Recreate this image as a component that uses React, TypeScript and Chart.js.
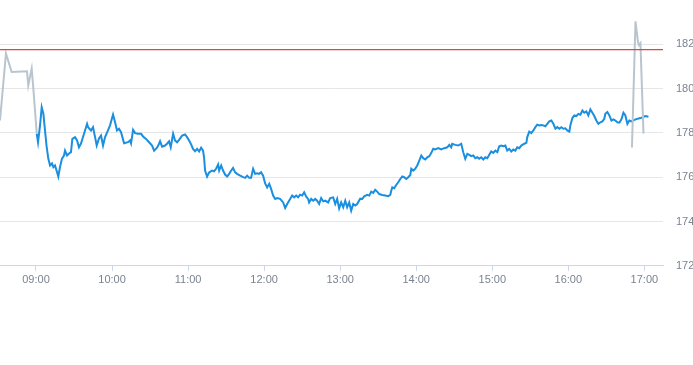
import React, { useEffect, useRef } from "react";
import { Chart, registerables } from "chart.js";

Chart.register(...registerables);

// time = minutes since midnight, price in currency units
const preTimes = [511.6, 516.3, 520.8, 532.9, 533.9, 536.6, 537.9, 540.6];
const prePrices = [178.56, 181.59, 180.75, 180.78, 180.14, 180.9, 180.01, 177.96];

const sessionTimes = [
  540.6, 541.6, 543.2, 544.5, 545.8, 547.1, 548.3, 549.7, 551.1, 552.6, 553.7, 555.0, 556.2, 557.6, 558.9, 560.5,
  562.1, 562.9, 564.5, 566.1, 567.6, 568.7, 570.8, 572.4, 573.9, 575.5, 577.9, 580.3, 581.1, 583.4, 585.0, 586.6,
  587.9, 589.7, 591.3, 592.9, 594.5, 596.8, 598.4, 600.8, 602.4, 603.9, 605.5, 607.1, 609.5, 612.6, 614.2, 615.0,
  616.6, 618.2, 620.5, 622.9, 624.5, 626.8, 629.2, 631.6, 633.2, 635.5, 637.1, 637.9, 639.5, 641.8, 643.4, 645.0,
  646.3, 648.2, 649.7, 651.3, 652.9, 655.3, 657.6, 659.2, 660.8, 662.4, 663.9, 665.5, 667.1, 668.7, 670.3, 671.8,
  672.6, 673.4, 675.0, 676.6, 678.9, 680.5, 682.1, 683.7, 684.5, 686.1, 687.6, 689.2, 690.8, 692.4, 694.0, 695.5,
  697.1, 698.7, 701.1, 703.4, 705.0, 706.6, 708.2, 709.7, 711.3, 712.9, 714.5, 716.1, 717.6, 719.2, 720.8, 722.4,
  724.0, 725.5, 727.1, 728.7, 730.3, 732.6, 735.0, 736.6, 738.2, 740.5, 742.1, 743.7, 745.3, 746.8, 748.4, 750.0,
  751.6, 753.2, 754.7, 755.5, 757.1, 758.7, 760.3, 761.8, 763.4, 765.0, 766.6, 768.2, 770.5, 772.1, 774.5, 776.1,
  777.6, 779.2, 780.8, 782.4, 784.0, 785.5, 787.1, 788.7, 790.3, 791.9, 793.4, 795.8, 797.4, 799.0, 801.3, 802.9,
  804.5, 806.1, 807.6, 809.2, 810.8, 813.2, 815.5, 817.9, 819.5, 820.3, 821.1, 822.6, 824.2, 825.8, 827.4, 829.0,
  830.5, 832.1, 833.7, 835.3, 836.1, 837.6, 839.2, 840.8, 842.4, 844.0, 845.5, 847.1, 848.7, 850.3, 851.9, 853.4,
  855.0, 857.4, 859.7, 862.1, 864.5, 866.1, 867.6, 868.4, 870.8, 873.2, 875.5, 877.1, 878.7, 880.3, 881.9, 883.4,
  885.0, 886.6, 888.2, 889.7, 891.3, 892.9, 894.5, 896.1, 897.6, 899.2, 900.8, 902.4, 904.0, 905.5, 907.1, 908.7,
  910.3, 911.8, 913.4, 915.0, 916.6, 918.2, 919.7, 921.3, 922.9, 925.3, 926.9, 927.6, 929.2, 930.8, 932.4, 934.0,
  935.5, 937.1, 938.7, 940.3, 941.9, 943.4, 945.0, 946.6, 948.2, 949.8, 951.3, 952.9, 954.5, 956.1, 957.6, 959.2,
  960.8, 961.6, 963.2, 964.7, 966.3, 967.9, 969.5, 971.1, 972.6, 974.2, 975.8, 977.4, 979.0, 980.5, 982.1, 983.7,
  985.3, 986.9, 988.4, 989.2, 990.8, 992.4, 994.0, 995.6, 997.1, 998.7, 1000.3, 1001.9, 1003.5, 1005.0, 1006.6, 1008.2,
  1009.8, 1013.0, 1016.9, 1020.9, 1023.2,
];
const sessionPrices = [
  177.96, 177.58, 178.34, 179.16, 178.88, 178.11, 177.43, 176.84, 176.53, 176.62, 176.45, 176.53, 176.3, 176.03, 176.45, 176.84,
  176.98, 177.2, 176.98, 177.07, 177.13, 177.73, 177.81, 177.66, 177.35, 177.52, 177.96, 178.41, 178.26, 178.11, 178.26, 177.81,
  177.43, 177.75, 177.88, 177.43, 177.81, 178.11, 178.34, 178.83, 178.48, 178.11, 178.19, 178.03, 177.53, 177.58, 177.66, 177.53,
  178.14, 177.99, 177.96, 177.96, 177.84, 177.73, 177.58, 177.43, 177.2, 177.33, 177.51, 177.62, 177.38, 177.43, 177.51, 177.62,
  177.35, 177.96, 177.66, 177.58, 177.69, 177.88, 177.93, 177.81, 177.66, 177.48, 177.28, 177.17, 177.28, 177.16, 177.33, 177.2,
  176.9, 176.3, 176.03, 176.22, 176.3, 176.27, 176.38, 176.57, 176.3, 176.53, 176.3, 176.12, 176.03, 176.15, 176.3, 176.42,
  176.22, 176.15, 176.07, 176.0, 175.97, 176.07, 175.97, 175.97, 176.38, 176.15, 176.18, 176.15, 176.22, 176.07, 175.72, 175.54,
  175.7, 175.47, 175.17, 175.02, 175.06, 175.02, 174.86, 174.61, 174.79, 175.02, 175.17, 175.09, 175.17, 175.09, 175.21, 175.17,
  175.32, 175.12, 175.02, 174.86, 175.02, 174.94, 175.02, 174.94, 174.79, 175.06, 174.91, 174.94, 174.86, 175.06, 175.09, 174.79,
  175.02, 174.59, 174.86, 174.64, 174.94, 174.64, 174.86, 174.49, 174.79, 174.72, 174.79, 175.03, 175.02, 175.14, 175.2, 175.17,
  175.35, 175.29, 175.43, 175.35, 175.24, 175.2, 175.17, 175.14, 175.2, 175.39, 175.54, 175.5, 175.65, 175.77, 175.92, 176.03,
  176.0, 175.92, 176.0, 176.1, 176.38, 176.3, 176.38, 176.53, 176.75, 176.98, 176.86, 176.8, 176.9, 176.95, 177.1, 177.28,
  177.25, 177.31, 177.25, 177.31, 177.35, 177.46, 177.35, 177.51, 177.46, 177.43, 177.51, 177.13, 176.83, 177.05, 177.01, 176.95,
  176.98, 176.86, 176.9, 176.83, 176.9, 176.8, 176.9, 176.86, 177.01, 177.16, 177.1, 177.2, 177.13, 177.4, 177.43, 177.4,
  177.43, 177.2, 177.28, 177.16, 177.25, 177.2, 177.35, 177.31, 177.43, 177.51, 177.55, 177.81, 178.06, 177.99, 178.11, 178.26,
  178.37, 178.34, 178.36, 178.34, 178.3, 178.41, 178.52, 178.56, 178.41, 178.19, 178.26, 178.19, 178.26, 178.19, 178.21, 178.11,
  178.06, 178.34, 178.67, 178.79, 178.76, 178.86, 178.82, 179.01, 178.91, 178.97, 178.79, 179.06, 178.91, 178.76, 178.56, 178.41,
  178.48, 178.52, 178.64, 178.86, 178.94, 178.79, 178.56, 178.61, 178.56, 178.48, 178.46, 178.61, 178.91, 178.79, 178.41, 178.56,
  178.52, 178.61, 178.67, 178.76, 178.73,
];

const postTimes = [1010.2, 1013.0, 1015.0, 1015.8, 1016.9, 1019.3];
const postPrices = [177.34, 183.04, 182.09, 181.96, 182.05, 177.97];

const previousClose = 181.76;

const hourTicks = ["09:00", "10:00", "11:00", "12:00", "13:00", "14:00", "15:00", "16:00", "17:00"];
const priceTicks = [172, 174, 176, 178, 180, 182];

const X_MIN = 511.6;
const X_MAX = 1034.7;

const toMin = (s: string) => {
  const [h, m] = s.split(":").map(Number);
  return h * 60 + m;
};
const fmt = (v: number) => {
  const h = Math.floor(v / 60);
  const m = Math.round(v - h * 60);
  return String(h).padStart(2, "0") + ":" + String(m).padStart(2, "0");
};
const pts = (xs: number[], ys: number[]) => xs.map((x, i) => ({ x, y: ys[i] }));

export default function App() {
  const ref = useRef<HTMLCanvasElement | null>(null);

  useEffect(() => {
    document.body.style.margin = "0";
    const canvas = ref.current!;
    const font = { family: "'Liberation Sans', Arial, sans-serif", size: 11 };
    const labelColor = "#7b8390";
    const chart = new Chart(canvas, {
      type: "line",
      data: {
        datasets: [
          {
            data: pts(postTimes, postPrices),
            borderColor: "#b9c5ce",
            borderWidth: 2,
            pointRadius: 0,
            tension: 0,
            order: 1,
          },
          {
            data: [
              { x: X_MIN, y: previousClose },
              { x: X_MAX, y: previousClose },
            ],
            borderColor: "#e0463b",
            backgroundColor: "#e0463b",
            borderWidth: 1.3,
            pointRadius: 0,
            fill: false,
            order: 0,
          },
          {
            data: pts(sessionTimes, sessionPrices),
            borderColor: "#1a8fe0",
            borderWidth: 2,
            pointRadius: 0,
            tension: 0,
            order: 2,
          },
          {
            data: pts(preTimes, prePrices),
            borderColor: "#b9c5ce",
            borderWidth: 2,
            pointRadius: 0,
            tension: 0,
            order: 3,
          },
        ],
      },
      options: {
        animation: false,
        responsive: false,
        devicePixelRatio: 1,
        layout: { padding: { top: 0, left: 0, right: 0, bottom: 75 } },
        plugins: { legend: { display: false }, tooltip: { enabled: false } },
        scales: {
          x: {
            type: "linear",
            min: X_MIN,
            max: X_MAX,
            afterBuildTicks: (axis: any) => {
              axis.ticks = hourTicks.map((t) => ({ value: toMin(t) }));
            },
            afterFit: (axis: any) => {
              axis.paddingLeft = 0;
              axis.paddingRight = 0;
            },
            ticks: {
              autoSkip: false,
              maxRotation: 0,
              padding: 3,
              color: labelColor,
              font,
              callback: (v: any) => fmt(Number(v)),
            },
            grid: {
              drawOnChartArea: false,
              drawTicks: true,
              tickLength: 5,
              color: "#ccd6eb",
            },
            border: { display: true, color: "#ccd6eb", width: 1 },
          },
          y: {
            position: "right",
            min: 172,
            max: 184,
            afterBuildTicks: (axis: any) => {
              axis.ticks = priceTicks.map((v) => ({ value: v }));
            },
            afterFit: (axis: any) => {
              axis.width = 30;
              axis.paddingTop = 0;
              axis.paddingBottom = 0;
            },
            ticks: {
              padding: 13,
              color: labelColor,
              font,
              callback: (v: any) => String(v),
            },
            grid: { drawTicks: false, color: "#e6e6e6" },
            border: { display: false },
          },
        },
      },
    });
    return () => chart.destroy();
  }, []);

  return (
    <div style={{ position: "absolute", left: 0, top: 0, width: 693, height: 365 }}>
      <canvas ref={ref} width={693} height={365} />
    </div>
  );
}
